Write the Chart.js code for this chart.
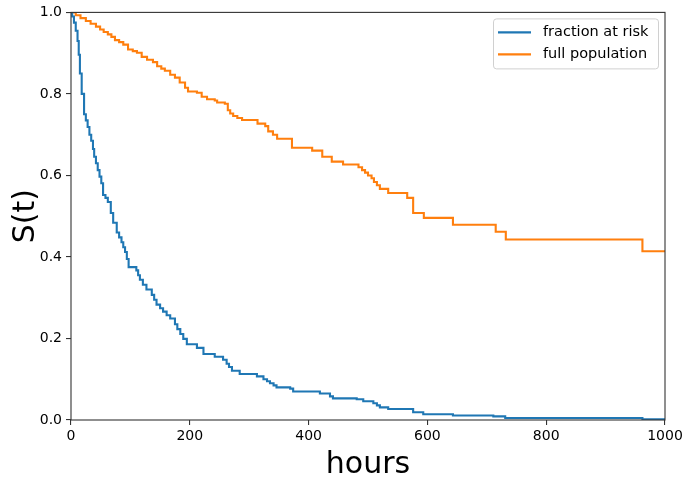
<!DOCTYPE html>
<html>
<head>
<meta charset="utf-8">
<script src="https://cdn.jsdelivr.net/npm/chart.js@4.4.0/dist/chart.umd.min.js"></script>
<style>
  html, body { margin: 0; padding: 0; background: #fff; }
</style>
</head>
<body>
<canvas id="survivalChart" width="685" height="479"></canvas>
<script>
// Kaplan-Meier style curves (hours, S(t))
const riskHours = [0, 2, 5, 8, 11, 13, 15, 18, 22, 25, 28, 31, 34, 37, 39, 42, 45, 48, 51, 54, 58, 62, 67, 71, 77, 81, 85, 88, 91, 94, 97,
  110, 113, 116, 121, 127, 136, 140, 144, 150, 155, 161, 167, 175, 179, 184, 189, 195, 212, 223, 242, 256, 262, 266, 271, 284,
  313, 324, 330, 335, 341, 346, 369, 374, 419, 436, 441, 481, 492, 509, 515, 520, 534, 576, 593, 643, 711, 731, 962, 1000];
const riskValues = [1.0, 0.99, 0.975, 0.955, 0.93, 0.896, 0.85, 0.80, 0.75, 0.735, 0.719, 0.70, 0.685, 0.665, 0.646, 0.63, 0.613, 0.597, 0.581, 0.552, 0.545, 0.535, 0.508, 0.484, 0.460, 0.448, 0.436, 0.424, 0.412, 0.395, 0.375,
  0.367, 0.355, 0.344, 0.332, 0.320, 0.307, 0.295, 0.283, 0.274, 0.266, 0.257, 0.249, 0.235, 0.223, 0.211, 0.199, 0.186, 0.177, 0.162, 0.155, 0.148, 0.138, 0.130, 0.121, 0.113,
  0.107, 0.100, 0.095, 0.090, 0.085, 0.080, 0.077, 0.070, 0.065, 0.058, 0.053, 0.051, 0.046, 0.041, 0.036, 0.031, 0.027, 0.019, 0.014, 0.011, 0.009, 0.005, 0.002, 0.002];

const popHours = [0, 8, 16, 25, 33, 42, 49, 55, 62, 68, 74, 81, 88, 96, 104, 111, 119, 128, 138, 145, 152, 158, 167, 175, 183, 192, 197,
  212, 220, 229, 242, 246, 259, 264, 268, 273, 280, 288, 314, 327, 332, 340, 347, 372, 406, 423, 439, 458, 484, 490, 495, 500, 506,
  510, 515, 520, 534, 566, 576, 594, 643, 715, 732, 962, 1000];
const popValues = [1.0, 0.993, 0.986, 0.979, 0.972, 0.965, 0.958, 0.952, 0.946, 0.940, 0.932, 0.927, 0.921, 0.909, 0.905, 0.901, 0.891, 0.884, 0.878, 0.868, 0.862, 0.857, 0.847, 0.840, 0.828, 0.815, 0.806,
  0.803, 0.793, 0.787, 0.784, 0.779, 0.776, 0.760, 0.752, 0.746, 0.741, 0.736, 0.727, 0.721, 0.708, 0.700, 0.690, 0.668, 0.661, 0.646, 0.634, 0.627, 0.620, 0.613, 0.607, 0.600, 0.593,
  0.584, 0.576, 0.567, 0.557, 0.545, 0.508, 0.496, 0.479, 0.462, 0.443, 0.414, 0.414];

const seriesLabels = ['fraction at risk', 'full population'];
const seriesColors = ['#1f77b4', '#ff7f0e'];
const xTitle = 'hours';
const yTitle = 'S(t)';

const toPoints = (xs, ys) => xs.map((x, i) => ({ x: x, y: ys[i] }));

// cadre complet autour de la zone du graphe + légende à l'intérieur
const framePlugin = {
  id: 'frame',
  afterDatasetsDraw(chart) {
    const ctx = chart.ctx;
    const a = chart.chartArea;
    ctx.save();
    ctx.strokeStyle = '#333';
    ctx.lineWidth = 1.1;
    ctx.strokeRect(a.left, a.top, a.right - a.left, a.bottom - a.top);

    // légende
    const w = 165, h = 50;
    const lx = a.right - 7 - w, ly = a.top + 6;
    ctx.beginPath();
    ctx.roundRect(lx + 0.5, ly + 0.5, w, h, 3);
    ctx.fillStyle = 'rgba(255,255,255,0.8)';
    ctx.fill();
    ctx.strokeStyle = '#d0d0d0';
    ctx.lineWidth = 1;
    ctx.stroke();
    ctx.font = '14.5px "DejaVu Sans"';
    ctx.textBaseline = 'middle';
    chart.data.datasets.forEach((ds, i) => {
      const rowY = ly + 14 + i * 22;
      ctx.strokeStyle = ds.borderColor;
      ctx.lineWidth = 2.1;
      ctx.beginPath();
      ctx.moveTo(lx + 5, rowY);
      ctx.lineTo(lx + 38, rowY);
      ctx.stroke();
      ctx.fillStyle = '#000';
      ctx.fillText(ds.label, lx + 50, rowY);
    });
    ctx.restore();
  }
};

const ctx = document.getElementById('survivalChart').getContext('2d');
const survivalChart = new Chart(ctx, {
  type: 'line',
  data: {
    datasets: [{
      label: seriesLabels[0],
      data: toPoints(riskHours, riskValues),
      borderColor: seriesColors[0],
      borderWidth: 2.1,
      pointRadius: 0,
      stepped: 'before',
      fill: false
    }, {
      label: seriesLabels[1],
      data: toPoints(popHours, popValues),
      borderColor: seriesColors[1],
      borderWidth: 2.1,
      pointRadius: 0,
      stepped: 'before',
      fill: false
    }]
  },
  options: {
    responsive: false,
    animation: false,
    layout: { padding: { top: 7, right: 20, left: 0, bottom: 0 } },
    plugins: {
      legend: { display: false },
      tooltip: { enabled: false }
    },
    scales: {
      x: {
        type: 'linear',
        min: 0,
        max: 1000,
        border: { display: false },
        grid: { drawOnChartArea: false, drawTicks: true, tickLength: 5, color: '#333', lineWidth: 1.1 },
        ticks: { stepSize: 200, color: '#000', padding: 3, maxRotation: 0, font: { family: 'DejaVu Sans', size: 14 },
          callback: v => String(v) },
        title: { display: true, text: xTitle, color: '#000', padding: { top: 0, bottom: 0 },
          font: { family: 'DejaVu Sans', size: 30, lineHeight: 0.9 } },
        afterFit(scale) {
          scale.height = 59;
          scale.paddingLeft = 0;
          scale.paddingRight = 0;
        }
      },
      y: {
        min: 0,
        max: 1,
        border: { display: false },
        grid: { drawOnChartArea: false, drawTicks: true, tickLength: 5, color: '#333', lineWidth: 1.1 },
        ticks: { stepSize: 0.2, color: '#000', padding: 4, font: { family: 'DejaVu Sans', size: 14 },
          callback: v => v.toFixed(1) },
        title: { display: true, text: yTitle, color: '#000', padding: { top: 8, bottom: 0 }, font: { family: 'DejaVu Sans', size: 30 } },
        afterFit(scale) { scale.width = 71; }
      }
    }
  },
  plugins: [framePlugin]
});
</script>
</body>
</html>
